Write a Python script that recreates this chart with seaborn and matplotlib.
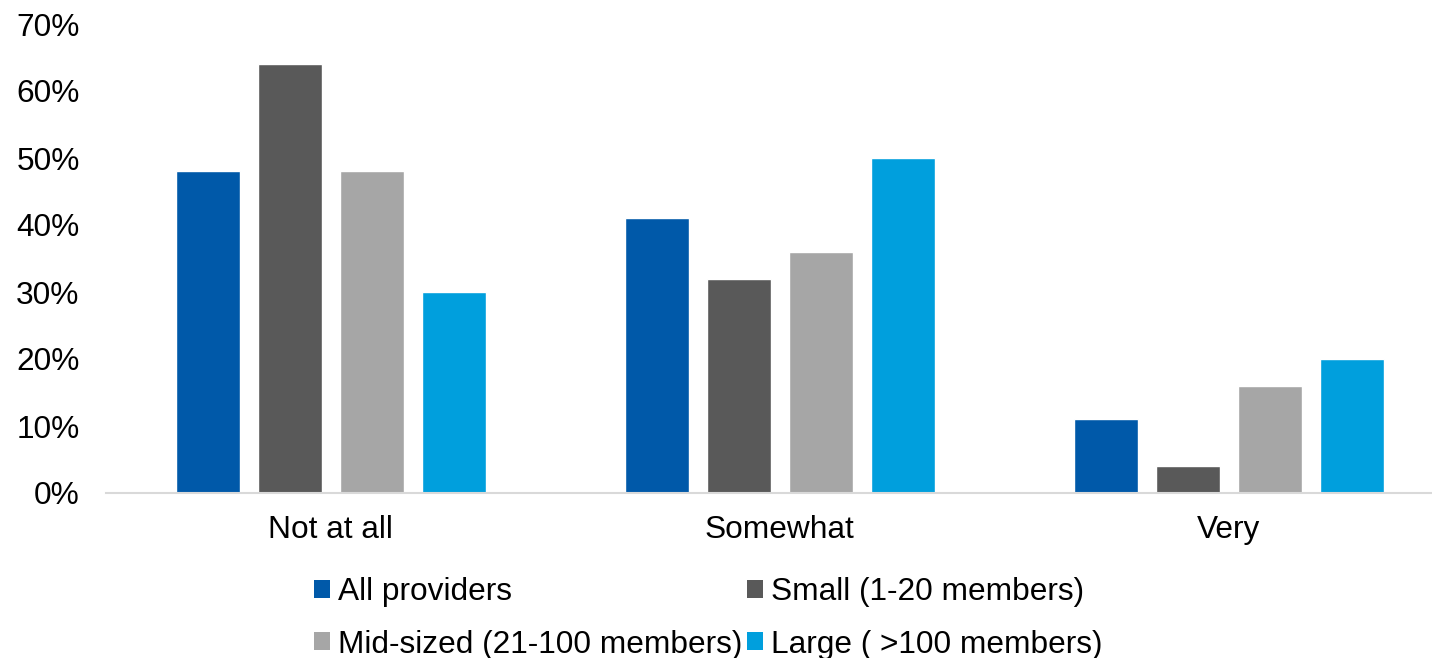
import pandas as pd
import matplotlib.pyplot as plt
import seaborn as sns
from matplotlib.patches import Patch
from matplotlib.ticker import PercentFormatter

# Data
categories = ["Not at all", "Somewhat", "Very"]
groups = [
    "All providers",
    "Small (1-20 members)",
    "Mid-sized (21-100 members)",
    "Large ( >100 members)",
]
all_providers = [48, 41, 11]
small = [64, 32, 4]
mid_sized = [48, 36, 16]
large = [30, 50, 20]
colors = ["#0059A9", "#595959", "#A6A6A6", "#009FDD"]

# Long-form table for seaborn
series = [all_providers, small, mid_sized, large]
rows = []
for g, vals in zip(groups, series):
    for c, v in zip(categories, vals):
        rows.append({"category": c, "group": g, "value": v / 100})
df = pd.DataFrame(rows)

sns.set_style("white")
plt.rcParams["font.family"] = ["Liberation Sans", "DejaVu Sans"]
plt.rcParams["text.color"] = "black"
plt.rcParams["xtick.color"] = "black"
plt.rcParams["ytick.color"] = "black"

fs = 22.8

fig = plt.figure(figsize=(14.32, 6.58), dpi=100)
ax = fig.add_axes([106 / 1432, 1 - 493 / 658, 1 - 106 / 1432, (493 - 24) / 658])

sns.barplot(
    data=df, x="category", y="value", hue="group",
    order=categories, hue_order=groups, palette=colors,
    width=0.73, gap=0.22, saturation=1, ax=ax, legend=False,
)

ax.set_ylim(0, 0.7)
ax.set_xlim(-0.5, 2.452)
ax.set_yticks([i / 10 for i in range(8)])
ax.yaxis.set_major_formatter(PercentFormatter(1.0, decimals=0))
ax.set_xlabel("")
ax.set_ylabel("")
ax.tick_params(axis="y", length=0, pad=19, labelsize=fs, labelcolor="black")
ax.tick_params(axis="x", length=0, pad=16, labelsize=fs, labelcolor="black")

for side in ["top", "right", "left"]:
    ax.spines[side].set_visible(False)
ax.spines["bottom"].set_color("#D9D9D9")
ax.spines["bottom"].set_linewidth(1.5)

# Legend below the chart, filled row by row
handles = [Patch(facecolor=c, edgecolor="none") for c in colors]
order = [0, 2, 1, 3]
fig.legend(
    [handles[i] for i in order], [groups[i] for i in order],
    loc="upper center", bbox_to_anchor=(0.4945, 1 - 561 / 658),
    ncol=2, frameon=False, fontsize=fs, handlelength=0.5, handleheight=0.5,
    handletextpad=0.25, columnspacing=0.15, labelspacing=0.72, borderpad=0,
)

fig.savefig("out.png", dpi=100)
